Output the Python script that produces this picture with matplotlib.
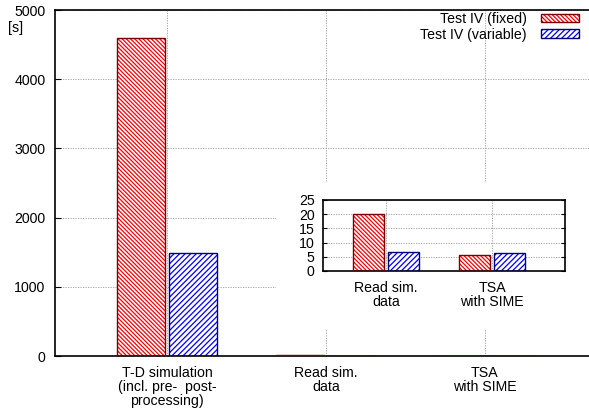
import matplotlib
matplotlib.use("Agg")
import matplotlib.pyplot as plt
from matplotlib.patches import Patch, Rectangle
import numpy as np

# data
categories = ["T-D simulation\n(incl. pre-  post-\nprocessing)", "Read sim.\ndata", "TSA\nwith SIME"]
fixed = [4600, 20, 5.5]
variable = [1490, 6.7, 6.5]
inset_categories = categories[1:]
inset_fixed = fixed[1:]
inset_variable = variable[1:]
main_yticks = [0, 1000, 2000, 3000, 4000, 5000]
inset_yticks = [0, 5, 10, 15, 20, 25]
labels = ["Test IV (fixed)", "Test IV (variable)"]

plt.rcParams["font.family"] = ["Liberation Sans", "DejaVu Sans"]
plt.rcParams["hatch.linewidth"] = 0.9
FS = 10.2

W, H = 589, 413
fig = plt.figure(figsize=(W / 100, H / 100), dpi=100)


def px_axes(x0, y0, x1, y1):
    # pixel box (top-left origin) -> figure fraction
    return [x0 / W, 1 - y1 / H, (x1 - x0) / W, (y1 - y0) / H]


red_edge = "#7a0000"
blue_edge = "#00007a"
red_hatch = "\\" * 8
blue_hatch = "/" * 6
bw = 0.3
off = 0.165


def draw_bars(ax, vals_a, vals_b):
    x = np.arange(len(vals_a))
    ax.bar(x - off, vals_a, bw, color="white", edgecolor="red", hatch=red_hatch, linewidth=0, zorder=2)
    ax.bar(x - off, vals_a, bw, fill=False, edgecolor=red_edge, linewidth=1.0, zorder=3)
    ax.bar(x + off, vals_b, bw, color="white", edgecolor="blue", hatch=blue_hatch, linewidth=0, zorder=2)
    ax.bar(x + off, vals_b, bw, fill=False, edgecolor=blue_edge, linewidth=1.0, zorder=3)
    return x


def style_grid(ax):
    ax.grid(True, color="#9a9a9a", linestyle=(0, (1.5, 1.5)), linewidth=0.6)
    ax.set_axisbelow(True)


# main chart
ax = fig.add_axes(px_axes(55, 10, 589, 356))
x = draw_bars(ax, fixed, variable)
ax.set_xlim(-0.705, 2.655)
ax.set_ylim(0, 5000)
ax.set_xticks(x)
ax.set_xticklabels(categories, fontsize=FS, linespacing=1.0)
ax.set_yticks(main_yticks)
ax.tick_params(axis="y", labelsize=FS, direction="in", length=4, width=0.8, pad=7)
ax.tick_params(axis="x", length=0, pad=7)
ax.spines["right"].set_visible(False)
for s in ["top", "left", "bottom"]:
    ax.spines[s].set_linewidth(1.2)
style_grid(ax)
fig.text(8 / W, 1 - 28 / H, "[s]", fontsize=FS, va="center", ha="left")

h1 = (Patch(facecolor="white", edgecolor="red", hatch=red_hatch, linewidth=0),
      Patch(fill=False, edgecolor=red_edge, linewidth=1.0))
h2 = (Patch(facecolor="white", edgecolor="blue", hatch=blue_hatch, linewidth=0),
      Patch(fill=False, edgecolor=blue_edge, linewidth=1.0))
ax.legend([h1, h2], labels, loc="upper right", bbox_to_anchor=(0.992, 1.01), markerfirst=False,
          frameon=False, fontsize=FS, handlelength=2.7, handleheight=0.55, handletextpad=1.0,
          labelspacing=0.1, borderaxespad=0.0)

# cleared area behind the inset
fig.patches.append(Rectangle((276 / W, 1 - 330 / H), (W - 276) / W, (330 - 183) / H,
                             transform=fig.transFigure, facecolor="white", edgecolor="none",
                             zorder=0.5))

# inset
ax2 = fig.add_axes(px_axes(323, 200, 565, 271))
ax2.set_zorder(1)
xi = draw_bars(ax2, inset_fixed, inset_variable)
ax2.set_xlim(-0.594, 1.689)
ax2.set_ylim(0, 25)
ax2.set_xticks(xi)
ax2.set_xticklabels(inset_categories, fontsize=FS, linespacing=1.0)
ax2.set_yticks(inset_yticks)
ax2.tick_params(axis="y", labelsize=FS, direction="in", length=3, width=0.8, pad=6, right=True)
ax2.tick_params(axis="x", length=0, pad=7)
for s in ax2.spines.values():
    s.set_linewidth(1.2)
style_grid(ax2)

fig.savefig("out.png", dpi=100)
